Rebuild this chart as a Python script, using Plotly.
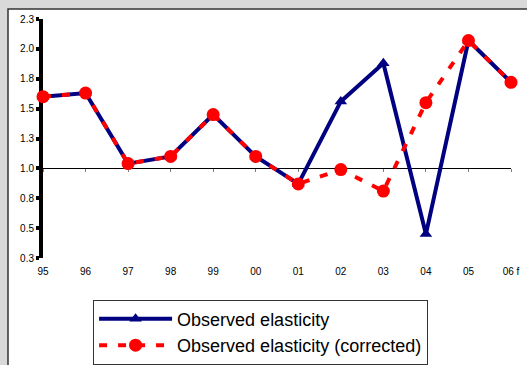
import plotly.graph_objects as go

years = ["95", "96", "97", "98", "99", "00", "01", "02", "03", "04", "05", "06 f"]
observed = [1.60, 1.63, 1.04, 1.10, 1.45, 1.10, 0.87, 1.56, 1.88, 0.45, 2.07, 1.72]
corrected = [1.60, 1.63, 1.04, 1.10, 1.45, 1.10, 0.87, 0.99, 0.81, 1.55, 2.07, 1.72]
y_tickvals = [0.25, 0.5, 0.75, 1.0, 1.25, 1.5, 1.75, 2.0, 2.25]
y_ticktext = ["0.3", "0.5", "0.8", "1.0", "1.3", "1.5", "1.8", "2.0", "2.3"]
y_range = [0.25, 2.25]
baseline = 1.0

FONT = "Arial, 'Liberation Sans', sans-serif"

fig = go.Figure()
fig.add_trace(go.Scatter(
    x=years, y=observed, name="Observed elasticity", mode="lines+markers",
    line=dict(color="#000080", width=4),
    marker=dict(symbol="triangle-up", size=11, color="#000080"),
    cliponaxis=False,
))
fig.add_trace(go.Scatter(
    x=years, y=corrected, name="Observed elasticity (corrected)", mode="lines+markers",
    line=dict(color="#ff0000", width=4, dash="8px,11px"),
    marker=dict(symbol="circle", size=13, color="#ff0000"),
    cliponaxis=False,
))

# white panel with border on grey page
fig.add_shape(type="rect", xref="paper", yref="paper", xsizemode="pixel", ysizemode="pixel",
              xanchor=0, yanchor=1, x0=-35, x1=600, y0=-400, y1=10,
              fillcolor="white", line=dict(color="#333333", width=1.5), layer="below")

fig.update_layout(
    width=527, height=365,
    margin=dict(l=43, r=16, t=19, b=107, autoexpand=False),
    paper_bgcolor="#d9d9d9", plot_bgcolor="rgba(0,0,0,0)",
    font=dict(family=FONT, size=10, color="#000000"),
    showlegend=True,
    legend=dict(
        x=0.107, y=-0.174, xanchor="left", yanchor="top",
        bgcolor="white", bordercolor="#333333", borderwidth=1,
        font=dict(family=FONT, size=18, color="#000000"),
        itemwidth=73, tracegroupgap=0,
    ),
    xaxis=dict(
        type="category", range=[0, len(years) - 1],
        showgrid=False, zeroline=False, showline=False,
        ticks="", ticklabelstandoff=6,
        tickfont=dict(size=10),
    ),
    xaxis2=dict(
        overlaying="x", anchor="free",
        position=(baseline - y_range[0]) / (y_range[1] - y_range[0]),
        range=[0, len(years) - 1], dtick=1, showticklabels=False,
        showgrid=False, zeroline=False,
        showline=True, linecolor="#000000", linewidth=1,
        ticks="outside", ticklen=3, tickwidth=1, tickcolor="#808080",
        layer="below traces",
    ),
    yaxis=dict(
        range=y_range, tickvals=y_tickvals, ticktext=y_ticktext,
        showgrid=False, zeroline=False,
        showline=True, linecolor="#000000", linewidth=4,
        ticks="outside", ticklen=3, tickwidth=4, tickcolor="#000000",
        tickfont=dict(size=10), layer="below traces",
    ),
)
# invisible trace to activate xaxis2 (baseline axis at y = 1.0)
fig.add_trace(go.Scatter(x=[0], y=[baseline], xaxis="x2", mode="none",
                         showlegend=False, hoverinfo="skip"))

fig.write_html("out.html")
